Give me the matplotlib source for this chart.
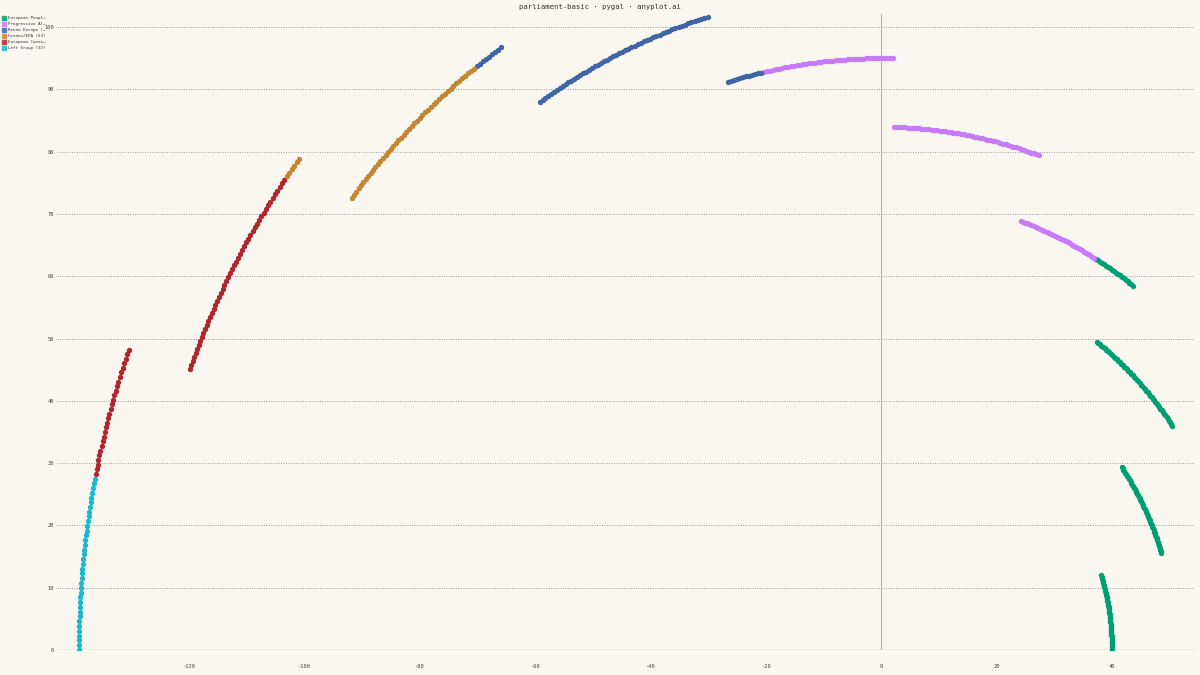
import numpy as np
import matplotlib
matplotlib.use("Agg")
from matplotlib import pyplot as plt
from matplotlib.patches import Rectangle

plt.rcParams["axes.unicode_minus"] = False

# parties in legend order (pygal draws series in this order)
parties = [
    "European People's Party (188)",
    "Progressive Alliance of Socialists and Democrats (136)",
    "Renew Europe (77)",
    "Greens/EFA (53)",
    "European Conservatives and Reformists (78)",
    "Left Group (37)",
]
seats = [188, 136, 77, 53, 78, 37]
colors = ["#009E73", "#C77BF8", "#4065A6", "#C58632", "#B0262E", "#1CB8CE"]

# hemicycle layout settings
n_rows = 10
inner_radius = 40
row_step = 11

x_ticks = [-120, -100, -80, -60, -40, -20, 0, 20, 40]
y_ticks = [0, 10, 20, 30, 40, 50, 60, 70, 80, 90, 100]


def truncate(label, n=15):
    return label if len(label) <= n else label[:n - 1] + "\u2026"


# seats are filled from the left-most party, outer row first
total = sum(seats)
per_row = total // n_rows
row_sizes = [per_row] * n_rows
row_sizes[0] += total - per_row * n_rows
radii = [inner_radius + row_step * (n_rows - 1 - k) for k in range(n_rows)]
seat_radius = np.repeat(radii, row_sizes)
seat_angle = np.linspace(np.pi, 0, total)
seat_x = seat_radius * np.cos(seat_angle)
seat_y = seat_radius * np.sin(seat_angle)

# party order along the arc is reversed legend order
order = list(range(len(parties)))[::-1]
starts = {}
pos = 0
for i in order:
    starts[i] = pos
    pos += seats[i]

bg = "#FAF7F0"
fig = plt.figure(figsize=(12, 6.75), dpi=100, facecolor=bg)
ax = fig.add_axes([57 / 1200, 25 / 675, (1195 - 57) / 1200, (650 - 14) / 675])
ax.set_facecolor(bg)

for i in range(len(parties)):
    s = starts[i]
    ax.scatter(seat_x[s:s + seats[i]], seat_y[s:s + seats[i]], s=15,
               color=colors[i], linewidths=0, zorder=3)

ax.set_xlim(-142.8, 54.4)
ax.set_ylim(0, 102.1)

for y in y_ticks[1:]:
    ax.axhline(y, color="#9a9a9a", linestyle=(0, (1, 1.5)), linewidth=0.7, zorder=1)
ax.axhline(0, color="#b5b5b5", linewidth=1.0, zorder=2)
ax.axvline(0, color="#b5b5b5", linewidth=0.8, zorder=2)

for s in ax.spines.values():
    s.set_visible(False)
ax.set_xticks(x_ticks)
ax.set_yticks(y_ticks)
ax.tick_params(length=0, labelsize=3.9, colors="#444444", pad=10)
ax.tick_params(axis="y", pad=2)
for lab in ax.get_xticklabels() + ax.get_yticklabels():
    lab.set_family("DejaVu Sans Mono")

fig.text(0.5, 1 - 7 / 675, "parliament-basic \u00b7 pygal \u00b7 anyplot.ai",
         ha="center", va="center", family="DejaVu Sans Mono", fontsize=5.2,
         color="#333333")

# legend, top left
for k, i in enumerate(range(len(parties))):
    yc = 1 - (17.7 + 6 * k) / 675
    fig.patches.append(Rectangle((2 / 1200, yc - 2 / 675), 4 / 1200, 4 / 675,
                                 transform=fig.transFigure, color=colors[i],
                                 alpha=0.8, figure=fig))
    fig.text(7.5 / 1200, yc, truncate(parties[i]), ha="left", va="center",
             family="DejaVu Sans Mono", fontsize=3.1, color="#333333")

fig.savefig("out.png", dpi=100, facecolor=bg)
